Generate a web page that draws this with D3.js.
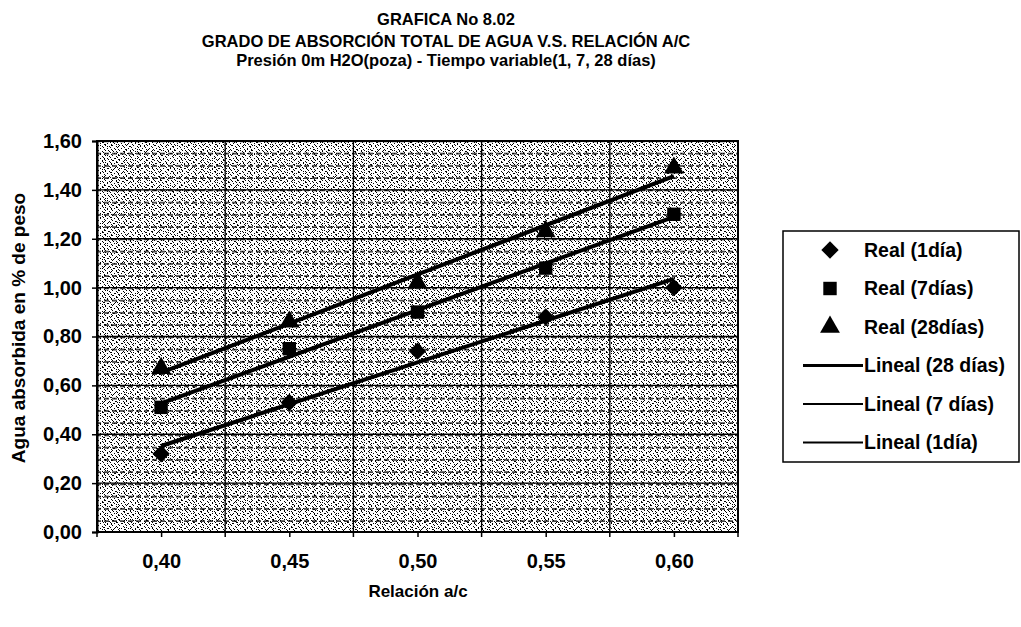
<!DOCTYPE html>
<html>
<head>
<meta charset="utf-8">
<script src="https://cdn.jsdelivr.net/npm/d3@7"></script>
<style>
  body { margin: 0; background: #ffffff; }
  svg text { font-family: "Liberation Sans", Arial, sans-serif; font-weight: bold; fill: #000; }
</style>
</head>
<body>
<div id="chart"></div>
<script>
////////////////////////////////////////////////////////////////////////
//
// Grafica 8.02 -- absorcion total de agua vs relacion a/c
//
////////////////////////////////////////////////////////////////////////

//Data
var categories = ["0,40", "0,45", "0,50", "0,55", "0,60"];
var real1Dia   = [0.32, 0.53, 0.74, 0.88, 1.00];
var real7Dias  = [0.51, 0.75, 0.90, 1.08, 1.30];
var real28Dias = [0.67, 0.86, 1.02, 1.23, 1.49];
var yTicks     = [0, 0.2, 0.4, 0.6, 0.8, 1.0, 1.2, 1.4, 1.6];

var titleLines = ["GRAFICA No 8.02",
                  "GRADO DE ABSORCIÓN TOTAL DE AGUA V.S. RELACIÓN A/C",
                  "Presión 0m H2O(poza) - Tiempo variable(1, 7, 28 días)"];

var legendLabels = ["Real (1día)", "Real (7días)", "Real (28días)",
                    "Lineal (28 días)", "Lineal (7 días)", "Lineal (1día)"];


////////////////////////////////////////////////////////////////////////
//
// Least squares fit over the category index (Excel "Lineal" trendline)
//
////////////////////////////////////////////////////////////////////////
function linearFit(values)
  {
  var n = values.length;
  var meanX = (n - 1) / 2;
  var meanY = d3.mean(values);
  var num = 0, den = 0;

  values.forEach(function(v, i)
    {
    num += (i - meanX) * (v - meanY);
    den += (i - meanX) * (i - meanX);
    });

  var slope = num / den;
  var intercept = meanY - slope * meanX;

  return [intercept, intercept + slope * (n - 1)];
  }


////////////////////////////////////////////////////////////////////////
//
// Draw everything
//
////////////////////////////////////////////////////////////////////////
function drawChart()
  {
  var width = 1021;
  var height = 627;

  var plot = {left: 97, right: 738, top: 141, bottom: 532};

  var svg = d3.select("#chart")
    .append("svg")
    .attr("width", width)
    .attr("height", height);

  //stipple texture like the scanned plot area
  var defs = svg.append("defs");

  var dots = defs.append("pattern")
    .attr("id", "dots")
    .attr("patternUnits", "userSpaceOnUse")
    .attr("width", 7)
    .attr("height", 5);
  [[0, 0], [4, 1], [2, 3], [6, 4], [5, 2]].forEach(function(p)
    {
    dots.append("rect").attr("x", p[0]).attr("y", p[1]).attr("width", 1).attr("height", 1).attr("fill", "#000");
    });

  var dots2 = defs.append("pattern")
    .attr("id", "dots2")
    .attr("patternUnits", "userSpaceOnUse")
    .attr("width", 11)
    .attr("height", 9);
  [[1, 1], [8, 2], [5, 5], [3, 7], [9, 6], [6, 0]].forEach(function(p)
    {
    dots2.append("rect").attr("x", p[0]).attr("y", p[1]).attr("width", 1).attr("height", 1).attr("fill", "#000");
    });

  var dashes = defs.append("pattern")
    .attr("id", "dashes")
    .attr("patternUnits", "userSpaceOnUse")
    .attr("width", 8)
    .attr("height", 49 / 4);
  dashes.append("rect").attr("x", 0).attr("y", 6).attr("width", 5).attr("height", 1.3).attr("fill", "#000");

  //scales
  var xBand = d3.scaleBand().domain(categories).range([plot.left, plot.right]).paddingInner(0).paddingOuter(0);
  var xCenter = function(c) { return xBand(c) + xBand.bandwidth() / 2; };
  var y = d3.scaleLinear().domain([0, 1.6]).range([plot.bottom, plot.top]);

  var fmt = function(d) { return d3.format(".2f")(d).replace(".", ","); };

  //plot background
  var bg = svg.append("g");
  ["#ffffff", "url(#dots)", "url(#dots2)", "url(#dashes)"].forEach(function(f)
    {
    bg.append("rect")
      .attr("x", plot.left).attr("y", plot.top)
      .attr("width", plot.right - plot.left).attr("height", plot.bottom - plot.top)
      .attr("fill", f);
    });

  //grid lines
  svg.append("g")
    .selectAll("line")
    .data(yTicks)
    .enter()
    .append("line")
    .attr("x1", plot.left).attr("x2", plot.right)
    .attr("y1", function(d) { return y(d); })
    .attr("y2", function(d) { return y(d); })
    .attr("stroke", "#000")
    .attr("stroke-width", 1.3);

  svg.append("g")
    .selectAll("line")
    .data(categories.slice(1))
    .enter()
    .append("line")
    .attr("x1", function(d) { return xBand(d); })
    .attr("x2", function(d) { return xBand(d); })
    .attr("y1", plot.top).attr("y2", plot.bottom)
    .attr("stroke", "#000")
    .attr("stroke-width", 1.3);

  //plot border
  svg.append("rect")
    .attr("x", plot.left).attr("y", plot.top)
    .attr("width", plot.right - plot.left).attr("height", plot.bottom - plot.top)
    .attr("fill", "none")
    .attr("stroke", "#000")
    .attr("stroke-width", 2);

  //y axis
  var yAxis = svg.append("g")
    .attr("transform", "translate(" + plot.left + ",0)")
    .call(d3.axisLeft(y).tickValues(yTicks).tickFormat(fmt).tickSize(5).tickPadding(10));
  yAxis.select(".domain").attr("stroke", "#000").attr("stroke-width", 2);
  yAxis.selectAll(".tick line").attr("stroke", "#000").attr("stroke-width", 1.5);
  yAxis.selectAll(".tick text").style("font-size", "20px").style("font-family", "Liberation Sans, Arial, sans-serif").style("font-weight", "bold");

  //x axis: labels under category centres, ticks at centres and boundaries
  var xPoint = d3.scalePoint().domain(categories).range([xCenter(categories[0]), xCenter(categories[categories.length - 1])]);
  var xAxis = svg.append("g")
    .attr("transform", "translate(0," + plot.bottom + ")")
    .call(d3.axisBottom(xPoint).tickSize(5).tickPadding(17));
  xAxis.select(".domain").remove();
  xAxis.selectAll(".tick line").attr("stroke", "#000").attr("stroke-width", 1.5);
  xAxis.selectAll(".tick text").style("font-size", "20px").style("font-family", "Liberation Sans, Arial, sans-serif").style("font-weight", "bold");

  svg.append("g")
    .selectAll("line")
    .data(categories.concat(["end"]))
    .enter()
    .append("line")
    .attr("x1", function(d, i) { return plot.left + i * xBand.bandwidth(); })
    .attr("x2", function(d, i) { return plot.left + i * xBand.bandwidth(); })
    .attr("y1", plot.bottom).attr("y2", plot.bottom + 5)
    .attr("stroke", "#000")
    .attr("stroke-width", 1.5);

  //trend lines
  var series = [real1Dia, real7Dias, real28Dias];
  series.forEach(function(s)
    {
    var ends = linearFit(s);
    svg.append("line")
      .attr("x1", xCenter(categories[0]))
      .attr("x2", xCenter(categories[categories.length - 1]))
      .attr("y1", y(ends[0]))
      .attr("y2", y(ends[1]))
      .attr("stroke", "#000")
      .attr("stroke-width", 4);
    });

  //markers
  var symbols = [d3.symbol().type(d3.symbolSquare).size(150),
                 d3.symbol().type(d3.symbolSquare).size(180),
                 d3.symbol().type(d3.symbolTriangle).size(170)];

  series.forEach(function(s, k)
    {
    svg.append("g")
      .selectAll("path")
      .data(s)
      .enter()
      .append("path")
      .attr("d", symbols[k])
      .attr("transform", function(d, i)
        {
        var t = "translate(" + xCenter(categories[i]) + "," + y(d) + ")";
        return k === 0 ? t + " rotate(45)" : t;
        })
      .attr("fill", "#000");
    });

  //titles
  var titleY = [25, 47, 66];
  titleLines.forEach(function(t, i)
    {
    svg.append("text")
      .attr("x", 446)
      .attr("y", titleY[i])
      .attr("text-anchor", "middle")
      .style("font-size", "16.5px")
      .text(t);
    });

  svg.append("text")
    .attr("x", 418)
    .attr("y", 597)
    .attr("text-anchor", "middle")
    .style("font-size", "17px")
    .text("Relación a/c");

  svg.append("text")
    .attr("transform", "translate(25,328) rotate(-90)")
    .attr("text-anchor", "middle")
    .style("font-size", "19px")
    .text("Agua absorbida en % de peso");

  //legend
  var leg = svg.append("g");
  leg.append("rect")
    .attr("x", 783).attr("y", 231)
    .attr("width", 236).attr("height", 231)
    .attr("fill", "#fff")
    .attr("stroke", "#000")
    .attr("stroke-width", 1.5);

  var rowY = function(i) { return 250 + i * 38.5; };

  legendLabels.forEach(function(lbl, i)
    {
    if(i < 3)
      {
      leg.append("path")
        .attr("d", symbols[i])
        .attr("transform", "translate(830," + rowY(i) + ")" + (i === 0 ? " rotate(45)" : ""))
        .attr("fill", "#000");
      }
    else
      {
      leg.append("line")
        .attr("x1", 803).attr("x2", 863)
        .attr("y1", rowY(i)).attr("y2", rowY(i))
        .attr("stroke", "#000")
        .attr("stroke-width", i === 3 ? 3 : 2);
      }

    leg.append("text")
      .attr("x", 864)
      .attr("y", rowY(i))
      .attr("dy", "0.35em")
      .style("font-size", "19.5px")
      .text(lbl);
    });

  return;
  }

drawChart();
</script>
</body>
</html>
